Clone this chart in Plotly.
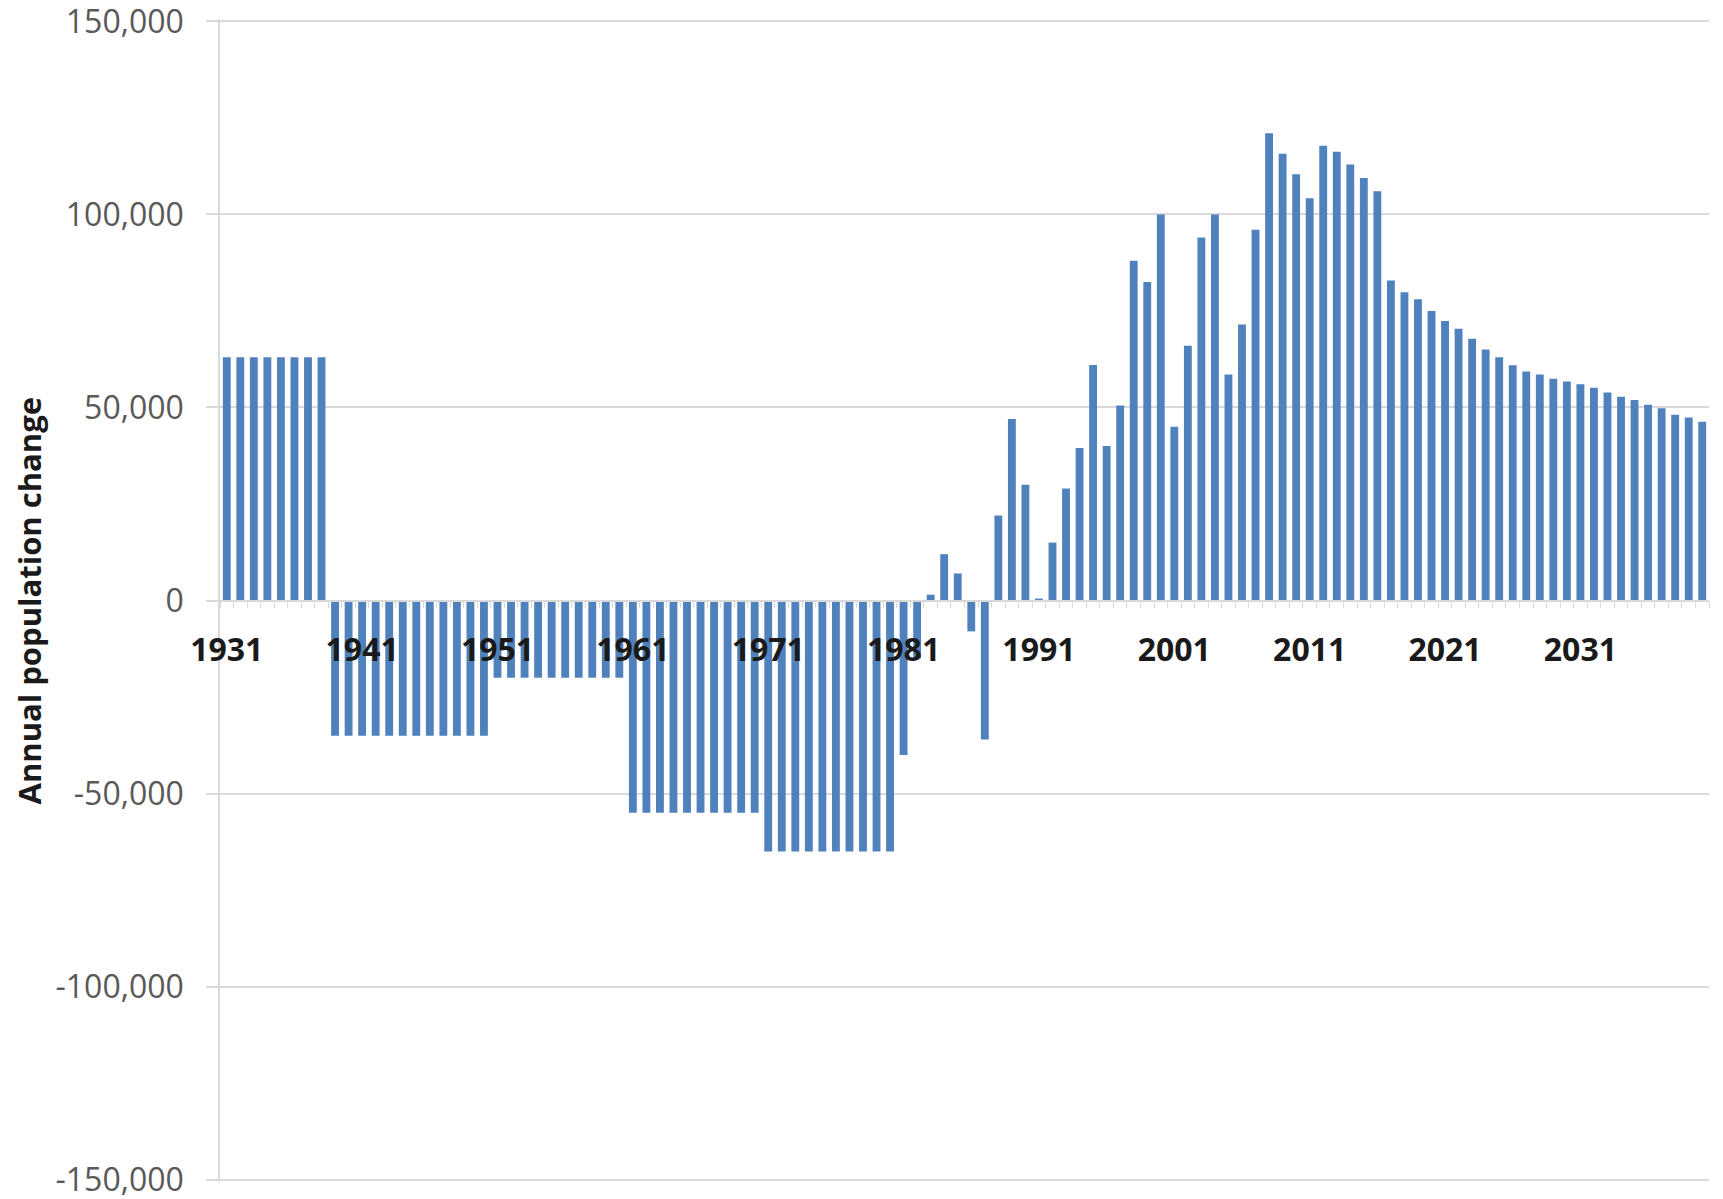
import plotly.graph_objects as go

# Years shown on the category axis
years = list(range(1931, 2041))

# Annual population change per year (1931-2040)
change = [
    # 1931-1938
    63000, 63000, 63000, 63000, 63000, 63000, 63000, 63000,
    # 1939-1950
    -35000, -35000, -35000, -35000, -35000, -35000,
    -35000, -35000, -35000, -35000, -35000, -35000,
    # 1951-1960
    -20000, -20000, -20000, -20000, -20000,
    -20000, -20000, -20000, -20000, -20000,
    # 1961-1970
    -55000, -55000, -55000, -55000, -55000,
    -55000, -55000, -55000, -55000, -55000,
    # 1971-1980
    -65000, -65000, -65000, -65000, -65000,
    -65000, -65000, -65000, -65000, -65000,
    # 1981-1990
    -40000, -15000, 1500, 12000, 7000, -8000, -36000, 22000, 47000, 30000,
    # 1991-2000
    500, 15000, 29000, 39500, 61000, 40000, 50500, 88000, 82500, 100000,
    # 2001-2010
    45000, 66000, 94000, 100000, 58500, 71500, 96000, 121000, 115700, 110400,
    # 2011-2020
    104200, 117800, 116200, 112900, 109400, 106000, 82900, 79800, 78000, 75000,
    # 2021-2030
    72400, 70400, 67800, 65000, 63000, 60900, 59300, 58500, 57400, 56700,
    # 2031-2040
    56000, 55100, 53900, 52800, 51900, 50700, 49800, 48100, 47400, 46300,
]

# Labelled years on the x axis
tick_years = [1931, 1941, 1951, 1961, 1971, 1981, 1991, 2001, 2011, 2021, 2031]

# Value axis ticks
y_ticks = [-150000, -100000, -50000, 0, 50000, 100000, 150000]
y_tick_text = ["-150,000", "-100,000", "-50,000", "0", "50,000", "100,000", "150,000"]

BAR_COLOR = "#4F81BD"
GRID_COLOR = "#D9D9D9"
FONT = "Open Sans"

# a little headroom so the outermost gridlines sit just inside the plot area
pad = 600

fig = go.Figure(
    go.Bar(
        x=years,
        y=change,
        marker=dict(color=BAR_COLOR, line=dict(width=0)),
        hoverinfo="x+y",
    )
)

fig.update_layout(
    width=1723,
    height=1199,
    margin=dict(l=220, r=14, t=19, b=17),
    paper_bgcolor="white",
    plot_bgcolor="white",
    bargap=0.42,
    showlegend=False,
    font=dict(family=FONT, color="#404040"),
    xaxis=dict(
        range=[years[0] - 0.5, years[-1] + 0.5],
        anchor="free",
        position=0.5,
        automargin=False,
        tickmode="array",
        tickvals=tick_years,
        ticktext=[str(y) for y in tick_years],
        tickfont=dict(family=FONT, size=32, color="#1A1A1A", weight="bold"),
        ticks="",
        ticklabelstandoff=21,
        showline=True,
        linecolor=GRID_COLOR,
        linewidth=1.5,
        showgrid=False,
        zeroline=False,
        minor=dict(
            tickmode="linear",
            tick0=years[0] - 0.5,
            dtick=1,
            ticks="outside",
            ticklen=7,
            tickwidth=1,
            tickcolor=GRID_COLOR,
            showgrid=False,
        ),
        layer="above traces",
    ),
    yaxis=dict(
        range=[y_ticks[0] - pad, y_ticks[-1] + pad],
        automargin=False,
        tickmode="array",
        tickvals=y_ticks,
        ticktext=y_tick_text,
        tickfont=dict(family=FONT, size=32, color="#595959"),
        ticklabeloverflow="allow",
        showgrid=True,
        gridcolor=GRID_COLOR,
        gridwidth=1.5,
        zeroline=False,
        showline=True,
        linecolor=GRID_COLOR,
        linewidth=1.5,
        ticks="outside",
        ticklen=12,
        tickwidth=1.5,
        tickcolor=GRID_COLOR,
        ticklabelstandoff=16,
    ),
    annotations=[
        dict(
            text="<b>Annual population change</b>",
            xref="paper",
            yref="paper",
            x=-192 / 1489,
            y=0.5,
            xanchor="center",
            yanchor="middle",
            textangle=-90,
            showarrow=False,
            font=dict(family=FONT, size=31, color="#1A1A1A"),
        )
    ],
)

fig.write_html("out.html")
